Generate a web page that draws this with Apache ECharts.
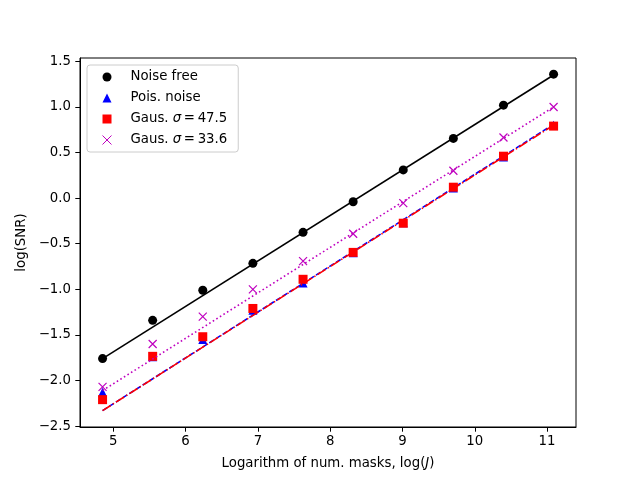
<!DOCTYPE html>
<html>
<head>
<meta charset="utf-8">
<script src="https://cdn.jsdelivr.net/npm/echarts@6/dist/echarts.min.js"></script>
<style>html,body{margin:0;padding:0;background:#fff}#c{width:640px;height:480px}</style>
</head>
<body>
<div id="c"></div>
<script>
// x = log(J), J = 128 ... 65536
const logJ = [4.852, 5.545, 6.238, 6.931, 7.625, 8.318, 9.011, 9.704, 10.397, 11.090];
const noiseFree = [-1.76, -1.34, -1.01, -0.715, -0.375, -0.04, 0.31, 0.655, 1.02, 1.36];
const poisNoise = [-2.13, -1.74, -1.55, -1.23, -0.93, -0.60, -0.27, 0.11, 0.45, 0.80];
const gaus475 = [-2.21, -1.735, -1.52, -1.21, -0.89, -0.595, -0.275, 0.12, 0.46, 0.79];
const gaus336 = [-2.07, -1.60, -1.30, -1.00, -0.69, -0.39, -0.055, 0.30, 0.665, 1.00];
// fitted lines: value at first and last x
const fitX = [4.852, 11.090];
const fitNoiseFree = [-1.76, 1.35];
const fitPois = [-2.33, 0.81];
const fitGaus475 = [-2.33, 0.80];
const fitGaus336 = [-2.11, 1.00];
const xTicks = [5, 6, 7, 8, 9, 10, 11];
const yTicks = [-2.5, -2.0, -1.5, -1.0, -0.5, 0.0, 0.5, 1.0, 1.5];
const names = ['Noise free', 'Pois. noise', 'Gaus. σ=47.5', 'Gaus. σ=33.6'];

const font = 'DejaVu Sans';
const pts = (ys) => logJ.map((x, i) => [x, ys[i]]);
const fit = (ys) => fitX.map((x, i) => [x, ys[i]]);
const xPath = 'path://M0,0L10,10M10,0L0,10';

const chart = echarts.init(document.getElementById('c'), null, {renderer: 'canvas'});
const fmtNum = v => (Math.abs(v) < 1e-9 ? 0 : v).toFixed(1).replace('-', '\u2212');

chart.setOption({
  animation: false,
  backgroundColor: '#fff',
  textStyle: {fontFamily: font},
  grid: {left: 80, right: 64, top: 58, bottom: 53, show: true, borderColor: '#000', borderWidth: 1, backgroundColor: 'transparent'},
  legend: {
    orient: 'vertical', left: 87, top: 65,
    data: [names[0], names[1], names[2],
      {name: names[3], itemStyle: {borderWidth: 1}}],
    itemWidth: 9, itemHeight: 9, itemGap: 7,
    padding: [5, 11, 5, 15],
    borderColor: '#cccccc', borderWidth: 1, borderRadius: 3,
    backgroundColor: 'rgba(255,255,255,0.8)',
    textStyle: {fontFamily: font, fontSize: 13.3, color: '#000', lineHeight: 14, padding: [0, 0, 0, 14],
      rich: {s: {fontStyle: 'italic', fontFamily: font, fontSize: 13.3, color: '#000'},
             n: {fontFamily: font, fontSize: 13.3, color: '#000'}}},
    formatter: function (name) {
      const m = name.match(/^Gaus\. σ=(.*)$/);
      if (m) return '{n|Gaus. }{s|σ}{n|\u2009=\u2009' + m[1] + '}';
      return name;
    }
  },
  xAxis: {
    type: 'value', min: 4.54, max: 11.40,
    name: 'Logarithm of num. masks, log({i|J})', nameLocation: 'middle', nameGap: 30,
    nameTextStyle: {fontFamily: font, fontSize: 13.3, color: '#000',
      rich: {i: {fontStyle: 'italic', fontFamily: font, fontSize: 13.3, color: '#000'}}},
    splitLine: {show: false},
    axisLine: {show: true, onZero: false, lineStyle: {color: '#000', width: 1}},
    axisTick: {show: true, length: 4.7, lineStyle: {color: '#000'}, customValues: xTicks},
    axisLabel: {color: '#000', fontSize: 13.3, fontFamily: font, margin: 8, customValues: xTicks,
      formatter: v => String(v)}
  },
  yAxis: {
    type: 'value', min: -2.51, max: 1.537,
    name: 'log(SNR)', nameLocation: 'middle', nameGap: 48, nameRotate: 90,
    nameTextStyle: {fontFamily: font, fontSize: 13.3, color: '#000'},
    splitLine: {show: false},
    axisLine: {show: true, onZero: false, lineStyle: {color: '#000', width: 1}},
    axisTick: {show: true, length: 4.7, lineStyle: {color: '#000'}, customValues: yTicks},
    axisLabel: {color: '#000', fontSize: 13.3, fontFamily: font, margin: 9, customValues: yTicks,
      formatter: v => fmtNum(v)}
  },
  series: [
    {name: names[0], type: 'scatter', data: pts(noiseFree), symbol: 'circle', symbolSize: 9,
      itemStyle: {color: '#000', opacity: 1}, z: 2},
    {type: 'line', data: fit(fitNoiseFree), showSymbol: false, symbol: 'none',
      lineStyle: {color: '#000', width: 1.6, type: 'solid'}, z: 3},
    {name: names[1], type: 'scatter', data: pts(poisNoise), symbol: 'triangle', symbolSize: 9,
      itemStyle: {color: '#0000ff', opacity: 1}, z: 4},
    {type: 'line', data: fit(fitPois), showSymbol: false, symbol: 'none',
      lineStyle: {color: '#0000ff', width: 1.6, type: [5.5, 2.4]}, z: 5},
    {name: names[2], type: 'scatter', data: pts(gaus475), symbol: 'rect', symbolSize: 9,
      itemStyle: {color: '#ff0000', opacity: 1}, z: 6},
    {type: 'line', data: fit(fitGaus475), showSymbol: false, symbol: 'none',
      lineStyle: {color: '#ff0000', width: 1.6, type: [9.6, 2.4, 1.5, 2.4]}, z: 7},
    {name: names[3], type: 'scatter', data: pts(gaus336), symbol: xPath, symbolSize: 8,
      itemStyle: {color: 'rgba(0,0,0,0)', borderColor: '#bf00bf', borderWidth: 1.2, opacity: 1}, z: 8},
    {type: 'line', data: fit(fitGaus336), showSymbol: false, symbol: 'none',
      lineStyle: {color: '#bf00bf', width: 1.6, type: [1.6, 2.6]}, z: 9}
  ]
});
</script>
</body>
</html>
